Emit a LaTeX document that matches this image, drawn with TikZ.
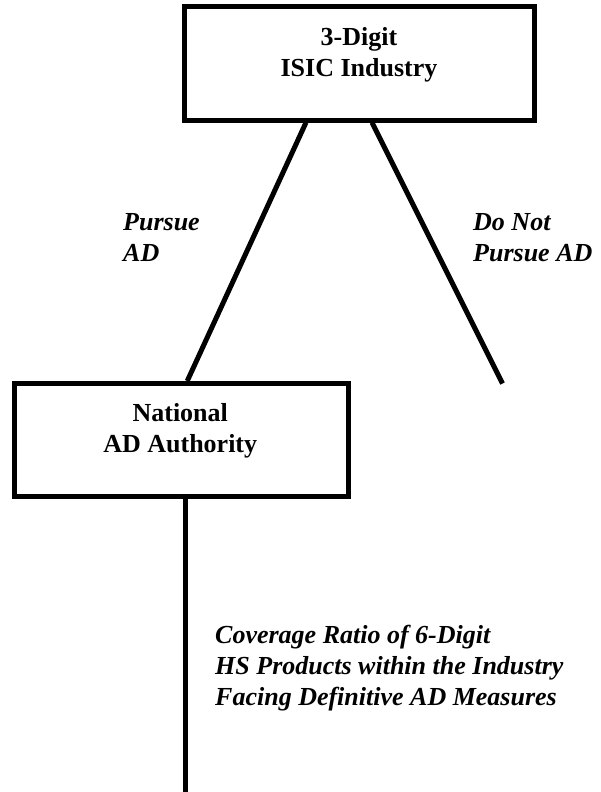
\documentclass[tikz,border=0pt]{standalone}
\usepackage{fontspec}
\setmainfont{Liberation Serif}
\begin{document}
\begin{tikzpicture}[x=1pt,y=1pt,
  box/.style={draw=black, line width=5pt, rectangle, inner sep=0pt},
  boxtext/.style={inner sep=0pt, align=center, font=\fontsize{26}{31}\selectfont\bfseries},
  lbl/.style={inner sep=0pt, align=left, anchor=north west, font=\fontsize{26}{31}\selectfont\bfseries\itshape},
  branch/.style={line width=5pt, line cap=butt}]
\useasboundingbox (0,0) rectangle (600,-792);
% boxes
\node[box, minimum width=350pt, minimum height=113pt] (isic) at (359,-63.5) {};
\node[boxtext] (isictext) at ([yshift=8.5pt]isic.center) {3-Digit\\ISIC Industry};
\node[box, minimum width=333.5pt, minimum height=112.5pt] (auth) at (181.25,-439.75) {};
\node[boxtext] (authtext) at ([yshift=9pt, xshift=-1pt]auth.center) {National\\AD Authority};
% free ends
\coordinate (noend) at (502.5,-383.5);
\coordinate (bottomend) at (185.5,-792);
% connectors
\draw[branch] ([xshift=-53pt]isic.south) -- ([xshift=6pt]auth.north);
\draw[branch] ([xshift=13pt]isic.south) -- (noend);
\draw[branch] ([xshift=4.25pt]auth.south) -- (bottomend);
% labels
\node[lbl] (pursue) at (123,-213) {Pursue\\AD};
\node[lbl] (notpursue) at (473,-213) {Do Not\\Pursue AD};
\node[lbl] (coverage) at (215,-625) {Coverage Ratio of 6-Digit\\HS Products within the Industry\\Facing Definitive AD Measures};
\end{tikzpicture}
\end{document}
